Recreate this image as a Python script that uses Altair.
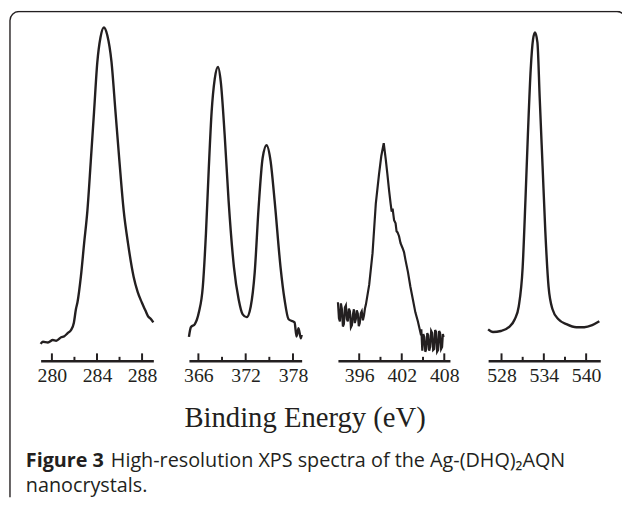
import altair as alt
import pandas as pd

# ---------------- data ----------------
c1s_ev = [279.0, 279.2, 279.65, 280.08, 280.38, 280.82, 281.1, 281.4, 281.7, 281.95,
          282.13, 282.27, 282.57, 282.86, 283.15, 283.45, 283.74, 284.03, 284.31, 284.61,
          284.92, 285.29, 285.64, 285.99, 286.37, 286.75, 287.25, 287.6, 287.97, 288.3,
          288.52, 288.8, 289.0]
c1s_int = [4.9, 5.5, 5.3, 6.0, 5.8, 6.8, 7.1, 8.0, 8.9, 11.0,
           14.9, 16.9, 24.3, 34.0, 43.4, 57.7, 72.0, 86.3, 93.4, 96.3,
           94.0, 86.3, 72.0, 57.7, 43.4, 34.0, 24.3, 20.0, 16.9, 14.5,
           12.9, 12.0, 11.1]

ag_ev = [364.8, 365.05, 365.55, 366.06, 366.56, 366.96, 367.32, 367.68, 368.07, 368.49,
         368.84, 369.33, 369.83, 370.51, 371.11, 371.62, 372.12, 372.64, 373.14, 373.64,
         374.15, 374.65, 375.16, 375.67, 376.42, 376.93, 377.44, 378.2, 378.45, 378.7,
         379.0, 379.1]
ag_int = [6.9, 9.7, 10.6, 14.0, 21.4, 36.9, 55.7, 72.0, 81.4, 84.9,
          80.6, 65.4, 46.3, 27.1, 17.7, 13.4, 12.6, 15.7, 25.4, 44.3,
          58.6, 62.3, 57.7, 46.3, 27.1, 17.7, 12.0, 11.1, 7.0, 9.4,
          6.5, 7.5]

n1s_ev = [393.0, 393.14, 393.28, 393.42, 393.56, 393.7, 393.84, 393.98, 394.12, 394.26,
          394.39, 394.54, 394.69, 394.83, 394.97, 395.11, 395.25, 395.38, 395.52, 395.66,
          395.8, 395.94, 396.08, 396.22, 396.36, 396.52, 396.67, 396.81, 396.95, 397.41,
          397.88, 398.34, 398.8, 399.11, 399.46, 399.74, 399.97, 400.22, 400.43, 400.58,
          400.71, 400.92, 401.13, 401.27, 401.41, 401.62, 401.83, 402.11, 402.32, 402.53,
          402.87, 403.22, 403.57, 403.92, 404.27, 404.62, 404.76, 404.9, 405.04, 405.18,
          405.32, 405.46, 405.6, 405.73, 405.87, 406.01, 406.15, 406.29, 406.43, 406.57,
          406.71, 406.85, 406.99, 407.13, 407.27, 407.41, 407.55, 407.69, 407.8, 407.9]
n1s_int = [16.9, 12.3, 11.4, 16.6, 14.9, 9.9, 10.6, 15.4, 16.0, 12.0,
           11.4, 15.1, 14.3, 9.7, 10.3, 13.4, 14.9, 10.9, 12.0, 14.6,
           13.7, 10.0, 10.9, 13.7, 14.3, 11.7, 13.1, 15.1, 16.3, 22.0,
           31.1, 45.4, 54.0, 59.1, 62.9, 58.3, 54.0, 49.1, 45.4, 43.1,
           44.0, 40.6, 39.7, 37.4, 37.1, 36.0, 34.0, 32.6, 31.4, 29.1,
           25.7, 21.4, 17.7, 14.0, 11.4, 8.3, 9.1, 2.9, 7.7, 6.9,
           2.6, 3.4, 8.0, 7.4, 2.9, 4.0, 8.6, 8.0, 3.1, 3.4,
           8.9, 8.3, 2.6, 3.1, 8.6, 8.0, 3.4, 4.0, 7.7, 6.9]

o1s_ev = [526.1, 526.79, 527.91, 529.04, 529.88, 530.44, 531.0, 531.39, 531.74, 532.14,
          532.47, 532.75, 533.09, 533.42, 533.82, 534.21, 534.67, 535.23, 536.07, 537.21,
          538.61, 539.74, 540.86, 541.87]
o1s_int = [9.1, 8.3, 8.6, 9.7, 12.0, 15.7, 27.1, 46.3, 65.4, 84.3,
           92.9, 94.9, 92.0, 75.7, 56.3, 37.4, 21.4, 14.9, 12.0, 10.6,
           9.7, 9.7, 10.3, 11.4]

major_ticks = [[280, 284, 288], [366, 372, 378], [396, 402, 408], [528, 534, 540]]
minor_ticks = [[282, 286], [369, 375], [399, 405], [531, 537]]
domains = [[279.0, 289.0], [364.8, 379.1], [393.0, 408.8], [526.1, 542.0]]

axis_title = "Binding Energy (eV)"
caption_bold = "Figure 3"
caption_rest = "High-resolution XPS spectra of the Ag-(DHQ)\u2082AQN"
caption_line2 = "nanocrystals."

# ---------------- layout ----------------
W, H = 621, 492
AXIS_Y = 354
ranges = [[33, 147], [183, 297], [333.7, 447], [485.6, 599]]
INK = "#231f20"

series = [(c1s_ev, c1s_int, "monotone", 2.4), (ag_ev, ag_int, "monotone", 2.4),
          (n1s_ev, n1s_int, "linear", 2.2), (o1s_ev, o1s_int, "monotone", 2.4)]

yscale = alt.Scale(domain=[0, 100], range=[AXIS_Y, 4])

panels = []
for i, (ev, it, interp, sw) in enumerate(series):
    xs = alt.Scale(domain=domains[i], range=ranges[i], nice=False, zero=False)
    ax = alt.Axis(orient="bottom", offset=AXIS_Y - H, values=major_ticks[i], format="d",
                  ticks=False, tickSize=0, labelFont="Liberation Serif", labelFontSize=20,
                  labelColor=INK, labelPadding=5, domainColor=INK, domainWidth=2.4,
                  grid=False, title=None, labelFlush=False, labelOverlap=False)
    df = pd.DataFrame({"eV": ev, "intensity": it})
    line = alt.Chart(df).mark_line(color=INK, strokeWidth=sw, interpolate=interp).encode(
        x=alt.X("eV:Q", scale=xs, axis=ax),
        y=alt.Y("intensity:Q", scale=yscale, axis=None),
    )
    maj = alt.Chart(pd.DataFrame({"tick": major_ticks[i]})).mark_rule(
        color=INK, strokeWidth=2).encode(
        x=alt.X("tick:Q", scale=xs, axis=ax),
        y=alt.value(AXIS_Y), y2=alt.value(AXIS_Y - 7.5),
    )
    mnr = alt.Chart(pd.DataFrame({"tick": minor_ticks[i]})).mark_rule(
        color=INK, strokeWidth=2).encode(
        x=alt.X("tick:Q", scale=xs, axis=ax),
        y=alt.value(AXIS_Y), y2=alt.value(AXIS_Y - 4),
    )
    panels.append(alt.layer(line, maj, mnr))

one = pd.DataFrame({"a": [0]})
border = alt.Chart(one).mark_rect(filled=False, stroke=INK, strokeWidth=1.4,
                                  cornerRadius=9, clip=True).encode(
    x=alt.value(2), x2=alt.value(625), y=alt.value(0.8), y2=alt.value(530))

title_txt = alt.Chart(pd.DataFrame({"t": [axis_title]})).mark_text(
    font="Liberation Serif", fontSize=29, color=INK, align="center",
    baseline="alphabetic").encode(text="t:N", x=alt.value(300.5), y=alt.value(421))

cap1 = alt.Chart(pd.DataFrame({"t": [caption_bold]})).mark_text(
    font="Open Sans", fontSize=20, fontWeight="bold", color=INK, align="left",
    baseline="alphabetic").encode(text="t:N", x=alt.value(18), y=alt.value(461))
cap2 = alt.Chart(pd.DataFrame({"t": [caption_rest]})).mark_text(
    font="Open Sans", fontSize=20, color=INK, align="left",
    baseline="alphabetic").encode(text="t:N", x=alt.value(104), y=alt.value(461))
cap3 = alt.Chart(pd.DataFrame({"t": [caption_line2]})).mark_text(
    font="Open Sans", fontSize=20, color=INK, align="left",
    baseline="alphabetic").encode(text="t:N", x=alt.value(18), y=alt.value(487))

chart = alt.layer(border, *panels, title_txt, cap1, cap2, cap3).resolve_scale(
    x="independent").resolve_axis(x="independent").properties(
    width=W, height=H, padding=0, autosize=alt.AutoSizeParams(type="none"),
    background="white").configure_view(stroke=None)

chart.save("out.html", embed_options={"renderer": "svg", "actions": False})
